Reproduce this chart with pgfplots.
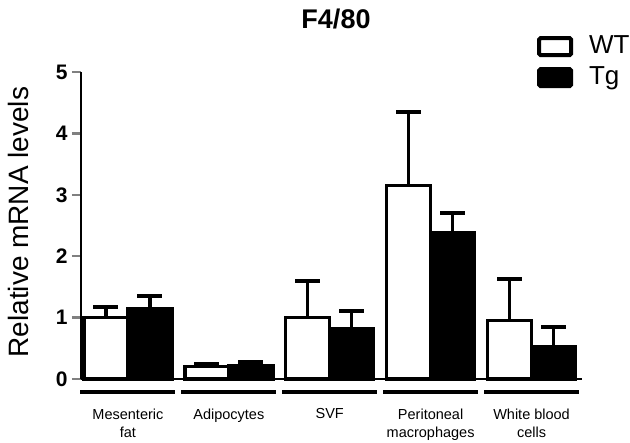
\documentclass[border=0pt]{standalone}
\usepackage{pgfplots}
\pgfplotsset{compat=1.18}
\usepackage{fontspec}
\setmainfont{Liberation Sans}
\begin{document}
\begin{tikzpicture}[x=1pt,y=1pt]
\useasboundingbox (-81,-64) rectangle (549,379);
\begin{axis}[
  at={(0,0)}, anchor=south west,
  scale only axis, width=501pt, height=307pt,
  xmin=-0.465, xmax=4.5, ymin=0, ymax=5,
  clip=false,
  axis x line=bottom, axis y line=left,
  axis line style={-, line width=2.5pt},
  ytick={0,1,2,3,4,5},
  yticklabel style={font=\fontsize{21}{21}\selectfont\bfseries, xshift=-1pt},
  /pgf/number format/assume math mode=true,
  tick align=outside, major tick length=9pt,
  ytick style={line width=2.5pt},
  xtick={0,1,2,3,4},
  xtick style={draw=none},
  xticklabels={Mesenteric\\fat, Adipocytes, SVF, Peritoneal\\macrophages, White blood\\cells},
  xticklabel style={font=\fontsize{14.5}{18}\selectfont, align=center, anchor=north, yshift=-17pt},
  ylabel={Relative mRNA levels},
  ylabel style={font=\fontsize{28}{28}\selectfont, at={(axis description cs:-0.124,0.511)}, anchor=center},
  title={\textbf{F4/80}},
  title style={font=\fontsize{27}{27}\selectfont, at={(axis description cs:0.509,1)}, anchor=base, yshift=37pt},
  ybar, bar width=44pt,
  error bars/y dir=plus, error bars/y explicit,
  error bars/error bar style={line width=3.5pt, black},
  error bars/error mark options={rotate=90, mark size=12.5pt, line width=4pt, black},
  legend style={draw=none, fill=none, at={(axis description cs:0.91,1.124)}, anchor=north west,
    font=\fontsize{26}{26}\selectfont, row sep=6pt, column sep=16pt, inner sep=0pt,
    nodes={inner sep=0pt, text height=19pt, text depth=6pt},
    legend cell align=left},
  legend image code/.code={\draw[#1, line width=4pt, rounded corners=1.5pt] (2pt,-8.5pt) rectangle (34pt,8.5pt);},
]
\addplot[draw=black, fill=white, line width=3.5pt, bar shift=-22pt]
  coordinates {(0,1.00) +- (0,0.18) (1,0.20) +- (0,0.05) (2,1.00) +- (0,0.60) (3,3.15) +- (0,1.20) (4,0.95) +- (0,0.68)};
\addplot[draw=black, fill=black, line width=3.5pt, bar shift=22pt]
  coordinates {(0,1.15) +- (0,0.20) (1,0.22) +- (0,0.05) (2,0.82) +- (0,0.28) (3,2.38) +- (0,0.32) (4,0.52) +- (0,0.33)};
\legend{WT, Tg}
\pgfplotsinvokeforeach{0,...,4}{
  \draw[line width=3.5pt] (axis cs:#1-0.47,-0.21) -- (axis cs:#1+0.47,-0.21);
}
\end{axis}
\end{tikzpicture}
\end{document}
